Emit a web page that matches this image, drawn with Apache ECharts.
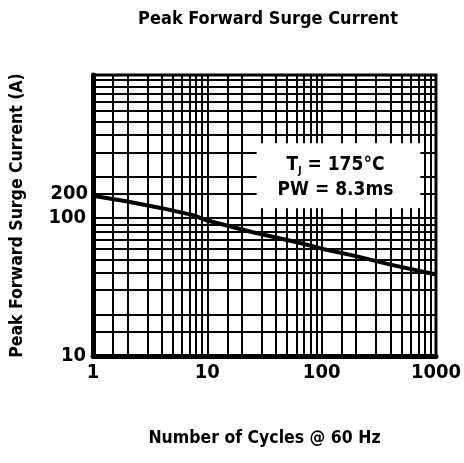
<!DOCTYPE html>
<html>
<head>
<meta charset="utf-8">
<script src="https://cdn.jsdelivr.net/npm/echarts@6/dist/echarts.min.js"></script>
<style>html,body{margin:0;padding:0;background:#fff}#c{width:464px;height:463px}</style>
</head>
<body>
<div id="c"></div>
<script>
// Data
var cycles  = [1, 2, 4, 7.5, 10, 25, 65, 100, 200, 400, 1000];
var current = [145, 132, 118, 105, 96, 79, 66, 60, 53, 46, 39];
var xGridValues = [1.5,2,3,4,5,6,7,8,9,10,15,20,30,40,50,60,70,80,90,100,150,200,300,400,500,600,700,800,900];
var yGridValues = [15,20,30,40,50,60,70,80,90,100,150,200,300,400,500,600,700,800,900,1000];
var yTickLabels = [10, 100];
var extraYLabel = {value: 150, text: '200'};
var xRange = [1, 1000];
var yRange = [10, 1090];
var boxX = [27, 730];
var boxY = [118, 349];
var boxText = 'T{sub|J} = 175°C\nPW = 8.3ms';
var titleText = 'Peak Forward Surge Current';
var xName = 'Number of Cycles @ 60 Hz';
var yName = 'Peak Forward Surge Current (A)';

var FONT = "'Liberation Sans Narrow', 'DejaVu Sans Condensed', 'Liberation Sans', sans-serif";

var chart = echarts.init(document.getElementById('c'), null, {renderer: 'canvas'});

var gridLines = [];
xGridValues.forEach(function (v) { gridLines.push({xAxis: v}); });
yGridValues.forEach(function (v) { gridLines.push({yAxis: v}); });
gridLines.push({
  yAxis: extraYLabel.value,
  label: {show: true, position: 'start', formatter: extraYLabel.text, color: '#000',
          fontFamily: FONT, fontWeight: 'bold', fontSize: 20, distance: 5}
});

var option = {
  animation: false,
  backgroundColor: '#fff',
  title: {
    text: titleText, left: 263, textAlign: 'center', top: 5,
    textStyle: {fontFamily: FONT, fontWeight: 'bold', fontSize: 18, color: '#000'}
  },
  grid: {left: 90, right: 23, top: 75, bottom: 107, show: true, borderColor: '#000', borderWidth: 3},
  xAxis: {
    type: 'log', logBase: 10, min: xRange[0], max: xRange[1],
    name: xName, nameLocation: 'middle', nameGap: 73,
    nameTextStyle: {fontFamily: FONT, fontWeight: 'bold', fontSize: 17.5, color: '#000'},
    axisLine: {show: true, lineStyle: {color: '#000', width: 5}},
    axisTick: {show: false},
    splitLine: {show: false},
    axisLabel: {fontFamily: FONT, fontWeight: 'bold', fontSize: 20, color: '#000', margin: 7,
      formatter: function (v) { return String(Math.round(v)); }}
  },
  yAxis: {
    type: 'log', logBase: 10, min: yRange[0], max: yRange[1],
    name: yName, nameLocation: 'middle', nameGap: 67, nameRotate: 90,
    nameTextStyle: {fontFamily: FONT, fontWeight: 'bold', fontSize: 17.5, color: '#000'},
    axisLine: {show: true, lineStyle: {color: '#000', width: 5}},
    axisTick: {show: false},
    splitLine: {show: false},
    axisLabel: {fontFamily: FONT, fontWeight: 'bold', fontSize: 20, color: '#000', margin: 7,
      showMaxLabel: false,
      formatter: function (v) {
        var r = Math.round(v);
        return yTickLabels.indexOf(r) >= 0 ? String(r) : '';
      }}
  },
  series: [
    {
      type: 'line', z: 1, data: [], silent: true, symbol: 'none',
      markLine: {
        silent: true, symbol: 'none', animation: false,
        label: {show: false},
        lineStyle: {color: '#000', width: 2, type: 'solid'},
        emphasis: {disabled: true},
        data: gridLines
      }
    },
    {
      type: 'custom', z: 10, silent: true, coordinateSystem: 'cartesian2d',
      encode: {x: [0, 2], y: [1, 3]},
      data: [[boxX[0], boxY[0], boxX[1], boxY[1]]],
      renderItem: function (params, api) {
        var p0 = api.coord([api.value(0), api.value(3)]);
        var p1 = api.coord([api.value(2), api.value(1)]);
        return {
          type: 'group',
          children: [
            {type: 'rect', shape: {x: p0[0], y: p0[1], width: p1[0] - p0[0], height: p1[1] - p0[1]},
             style: {fill: '#fff', stroke: null}},
            {type: 'text', x: (p0[0] + p1[0]) / 2 - 3, y: (p0[1] + p1[1]) / 2 + 2,
             style: {text: boxText, fill: '#000', fontFamily: FONT, fontWeight: 'bold', fontSize: 19,
                     lineHeight: 25, align: 'center', verticalAlign: 'middle',
                     rich: {sub: {fontFamily: FONT, fontWeight: 'bold', fontSize: 10, padding: [12, 0, 0, 0], fill: '#000'}}}}
          ]
        };
      }
    },
    {
      type: 'line', z: 5, symbol: 'none', smooth: false,
      lineStyle: {color: '#000', width: 4},
      data: cycles.map(function (c, i) { return [c, current[i]]; })
    }
  ]
};
chart.setOption(option);
</script>
</body>
</html>
